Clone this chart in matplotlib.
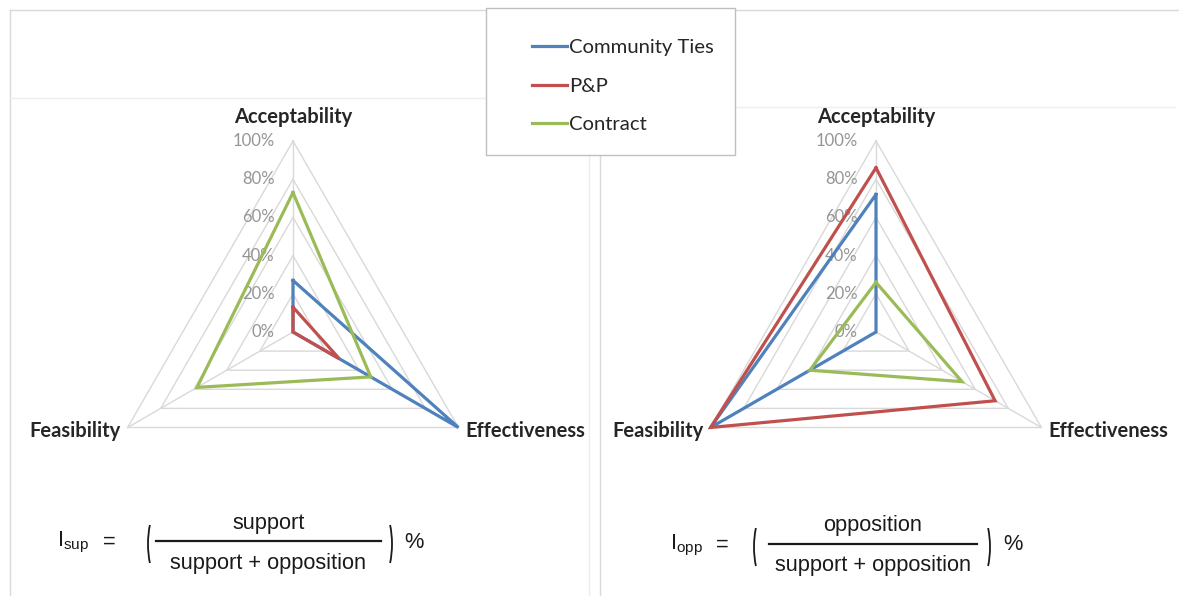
import numpy as np
import matplotlib
matplotlib.use("Agg")
import matplotlib.pyplot as plt
from matplotlib.patches import Rectangle, Arc
from matplotlib.lines import Line2D

# ---------------- data ----------------
categories = ["Acceptability", "Effectiveness", "Feasibility"]
series_names = ["Community Ties", "P&P", "Contract"]
series_colors = ["#4F81BD", "#C0504D", "#9BBB59"]

support_community_ties = [27, 100, 0]
support_pp = [13, 28, 0]
support_contract = [73, 47, 58]

opposition_community_ties = [72, 0, 100]
opposition_pp = [86, 72, 100]
opposition_contract = [26, 52, 40]

tick_values = [0, 20, 40, 60, 80, 100]
tick_labels = ["0%", "20%", "40%", "60%", "80%", "100%"]

# ---------------- figure ----------------
W, H = 1179, 596
fig = plt.figure(figsize=(W / 100, H / 100), dpi=100)
fig.patch.set_facecolor("white")

bg = fig.add_axes([0, 0, 1, 1])
bg.set_xlim(0, W)
bg.set_ylim(H, 0)
bg.axis("off")

LABEL_FONT = "Lato"
FORMULA_FONT = "Liberation Sans"

# frame lines (chart borders)
border = "#D9D9D9"
faint = "#EDEDED"
bg.add_line(Line2D([10, W], [10, 10], color=border, lw=1))
bg.add_line(Line2D([10, 10], [10, H], color=border, lw=1))
bg.add_line(Line2D([10, 486], [98, 98], color=faint, lw=1))
bg.add_line(Line2D([735, W - 4], [107, 107], color=faint, lw=1))
bg.add_line(Line2D([589, 589], [155, H], color=faint, lw=1))
bg.add_line(Line2D([600, 600], [155, H], color=border, lw=1))

angles = np.deg2rad([90, -30, 210])


def radar_axes(cx, cy, R):
    s = 1.2 * R
    ax = fig.add_axes([(cx - s) / W, 1 - (cy + s) / H, 2 * s / W, 2 * s / H])
    ax.set_xlim(-120, 120)
    ax.set_ylim(-120, 120)
    ax.axis("off")
    ax.patch.set_alpha(0)
    return ax


def draw_radar(ax, datasets):
    grid_c = "#D9D9D9"
    for lvl in tick_values[1:]:
        xs = [lvl * np.cos(a) for a in angles] + [lvl * np.cos(angles[0])]
        ys = [lvl * np.sin(a) for a in angles] + [lvl * np.sin(angles[0])]
        ax.plot(xs, ys, color=grid_c, lw=1, zorder=1)
    for a in angles:
        ax.plot([0, 100 * np.cos(a)], [0, 100 * np.sin(a)], color=grid_c, lw=1, zorder=1)
    for v, lab in zip(tick_values, tick_labels):
        ax.text(-9.5, v, lab, ha="right", va="center", fontsize=12,
                color="#959595", family=LABEL_FONT, zorder=2)
    handles = []
    for vals, name, col in zip(datasets, series_names, series_colors):
        xs = [v * np.cos(a) for v, a in zip(vals, angles)]
        ys = [v * np.sin(a) for v, a in zip(vals, angles)]
        xs.append(xs[0])
        ys.append(ys[0])
        h, = ax.plot(xs, ys, color=col, lw=2.3, label=name, zorder=3,
                     solid_joinstyle="miter")
        handles.append(h)
    # category labels
    lab_fs = 14.5
    ax.text(0, 112.5, categories[0], ha="center", va="center", fontsize=lab_fs,
            fontweight="bold", family=LABEL_FONT, color="#262626")
    ax.text(100 * np.cos(angles[1]) + 3.5, 100 * np.sin(angles[1]) - 2, categories[1],
            ha="left", va="center", fontsize=lab_fs, fontweight="bold",
            family=LABEL_FONT, color="#262626")
    ax.text(100 * np.cos(angles[2]) - 3.5, 100 * np.sin(angles[2]) - 2, categories[2],
            ha="right", va="center", fontsize=lab_fs, fontweight="bold",
            family=LABEL_FONT, color="#262626")
    return handles


R = 191
ax_left = radar_axes(293, 332, R)
handles = draw_radar(ax_left, [support_community_ties, support_pp, support_contract])
ax_right = radar_axes(876, 332, R)
draw_radar(ax_right, [opposition_community_ties, opposition_pp, opposition_contract])

# ---------------- legend ----------------
bg.add_patch(Rectangle((486, 8), 249, 147, facecolor="white", edgecolor="#BFBFBF",
                       lw=1, zorder=5))
leg = bg.legend(handles=handles, loc="upper left",
                bbox_to_anchor=(516 / W, 1 - 23 / H), bbox_transform=fig.transFigure,
                frameon=False, prop={"family": LABEL_FONT, "size": 14.6},
                handlelength=1.7, handletextpad=0.1, labelspacing=1.05,
                borderpad=0.3)
leg.set_zorder(6)
for t in leg.get_texts():
    t.set_color("#262626")


# ---------------- formulas ----------------
def formula(x_I, sub, num, x_lp, x_line0, x_line1, x_rp, x_pct, y, fs):
    bg.text(x_I, y, r"$\mathregular{I_{%s}}$" % sub, ha="left", va="center",
            fontsize=fs, family=FORMULA_FONT, color="#1a1a1a")
    bg.text(x_I + 46, y, "=", ha="left", va="center", fontsize=fs,
            family=FORMULA_FONT, color="#1a1a1a")
    xc = (x_line0 + x_line1) / 2
    bg.text(xc, y - 19, num, ha="center", va="center", fontsize=fs,
            family=FORMULA_FONT, color="#1a1a1a")
    bg.text(xc, y + 21, "support + opposition", ha="center", va="center",
            fontsize=fs, family=FORMULA_FONT, color="#1a1a1a")
    bg.add_line(Line2D([x_line0, x_line1], [y - 1, y - 1], color="#1a1a1a", lw=1.6))
    bg.add_patch(Arc((x_lp + 12, y + 2), 24, 70, theta1=118, theta2=242,
                     color="#1a1a1a", lw=1.3))
    bg.add_patch(Arc((x_rp - 12, y + 2), 24, 70, theta1=-62, theta2=62,
                     color="#1a1a1a", lw=1.3))
    bg.text(x_pct, y, "%", ha="left", va="center", fontsize=fs,
            family=FORMULA_FONT, color="#1a1a1a")


formula(57, "sup", "support", 148, 156, 381, 392, 404, 542, 15.7)
formula(670, "opp", "opposition", 754, 769, 977, 990, 1003, 545, 15.7)

fig.savefig("out.png", dpi=100, facecolor="white")
